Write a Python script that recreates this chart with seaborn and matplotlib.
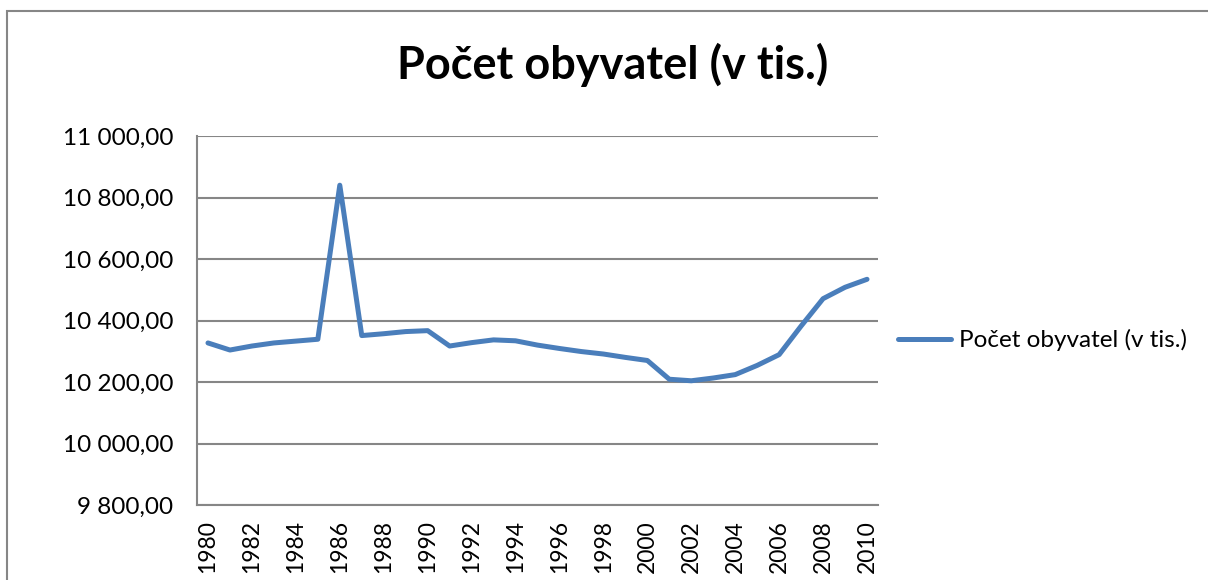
import seaborn as sns
from matplotlib import pyplot as plt
from matplotlib import patches
from matplotlib.ticker import FuncFormatter, FixedLocator
import numpy as np
import pandas as pd

# data
roky = list(range(1980, 2011))
obyvatel = [10327, 10304, 10317, 10327, 10333, 10339, 10840, 10351, 10357, 10364,
            10367, 10317, 10328, 10337, 10334, 10320, 10309, 10299, 10291, 10280,
            10270, 10209, 10204, 10213, 10224, 10254, 10289, 10382, 10471, 10508,
            10534]
nazev = "Počet obyvatel (v tis.)"

sns.set_style("white")
plt.rcParams['font.family'] = ['Lato', 'DejaVu Sans']
plt.rcParams['text.color'] = 'black'
plt.rcParams['xtick.color'] = 'black'
plt.rcParams['ytick.color'] = 'black'

df = pd.DataFrame({"rok": roky, nazev: obyvatel})

fig = plt.figure(figsize=(12.08, 5.8), dpi=100)
ax = fig.add_axes([197 / 1208, 1 - 505 / 580, (878 - 197) / 1208, (505 - 136) / 580])

sns.lineplot(data=df, x="rok", y=nazev, ax=ax, color="#4A7EBB", linewidth=3.6,
             label=nazev, legend=False)
for l in ax.lines:
    l.set_solid_capstyle("round")
    l.set_solid_joinstyle("round")

seda = "#868686"
ax.set_ylim(9800, 11000)
ax.set_yticks(np.arange(9800, 11001, 200))
ax.yaxis.set_major_formatter(FuncFormatter(
    lambda v, p: f"{v:,.2f}".replace(",", " ").replace(".", ",")))
ax.grid(axis="y", color=seda, linewidth=1.5)
ax.set_axisbelow(True)

ax.set_xlim(roky[0] - 0.5, roky[-1] + 0.5)
ax.set_xticks(roky[::2])
ax.set_xticklabels([str(r) for r in roky[::2]], rotation=90)
ax.xaxis.set_minor_locator(FixedLocator(np.arange(roky[0] - 0.5, roky[-1] + 1, 1)))
ax.tick_params(axis="x", which="major", length=0, pad=11, labelsize=16.5)
ax.tick_params(axis="x", which="minor", length=8, width=1.2, color=seda, direction="out")
ax.tick_params(axis="y", length=9, width=1.2, color=seda, direction="out",
               labelsize=17.5, pad=8)

for s in ["top", "right"]:
    ax.spines[s].set_visible(False)
for s in ["left", "bottom"]:
    ax.spines[s].set_color(seda)
    ax.spines[s].set_linewidth(1.5)
ax.set_xlabel("")
ax.set_ylabel("")

fig.text(613 / 1208, 1 - 65 / 580, nazev, ha="center", va="center",
         fontsize=32.5, fontweight="bold")

h, lab = ax.get_legend_handles_labels()
fig.legend(h, lab, loc="center left", bbox_to_anchor=(898 / 1208, 1 - 340 / 580),
           frameon=False, fontsize=17.5, handlelength=2.2, handletextpad=0.3,
           borderpad=0, borderaxespad=0)

fig.add_artist(patches.Rectangle((7 / 1208, -0.1), 2, 1 - 10.5 / 580 + 0.1,
                                 transform=fig.transFigure, fill=False,
                                 edgecolor=seda, linewidth=1.5))

fig.savefig("out.png", dpi=100)
